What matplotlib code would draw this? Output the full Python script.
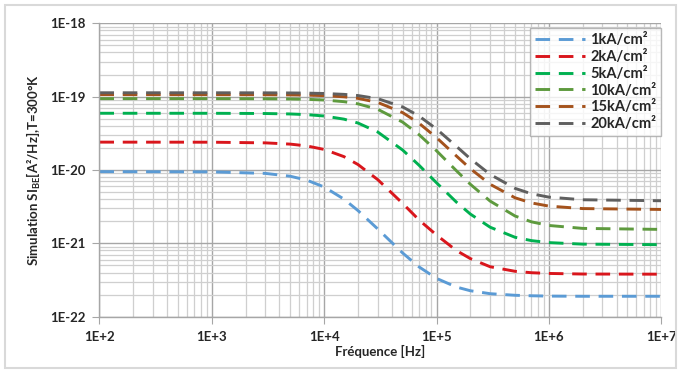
import numpy as np
import matplotlib
matplotlib.use("Agg")
import matplotlib.pyplot as plt
import matplotlib.ticker as ticker
from matplotlib.patches import Rectangle

plt.rcParams['font.family'] = ['Lato', 'DejaVu Sans']
plt.rcParams['mathtext.default'] = 'regular'

# frequences [Hz]
freq = [1e2, 1e3, 3e3, 5e3, 7e3, 1e4, 1.5e4, 2e4, 3e4, 5e4, 7e4,
        1e5, 1.5e5, 2e5, 3e5, 5e5, 7e5, 1e6, 2e6, 1e7]

# valeurs, en unites de 1E-21 A^2/Hz
s_1k = [9.50, 9.44, 8.99, 8.22, 7.28, 5.87, 4.01, 2.80, 1.57, 0.738, 0.477,
        0.333, 0.254, 0.226, 0.206, 0.196, 0.193, 0.191, 0.190, 0.190]
s_2k = [24.0, 23.94, 23.45, 22.54, 21.30, 19.08, 15.22, 11.88, 7.39, 3.50, 2.08,
        1.30, 0.80, 0.62, 0.48, 0.416, 0.398, 0.389, 0.382, 0.380]
s_5k = [59.4, 59.35, 58.92, 58.09, 56.88, 54.49, 49.39, 43.71, 32.96, 18.69, 11.59,
        6.70, 3.66, 2.51, 1.66, 1.21, 1.09, 1.024, 0.976, 0.960]
s_10k = [94.0, 93.96, 93.63, 92.97, 91.99, 90.0, 85.45, 79.82, 67.24, 44.92, 30.28,
         18.28, 9.81, 6.39, 3.77, 2.36, 1.965, 1.754, 1.60, 1.55]
s_15k = [106.5, 106.47, 106.2, 105.68, 104.91, 103.3, 99.56, 94.78, 83.4, 60.55, 43.33,
         27.63, 15.57, 10.43, 6.39, 4.18, 3.56, 3.22, 2.98, 2.90]
s_20k = [113.0, 112.98, 112.78, 112.37, 111.76, 110.49, 107.49, 103.57, 93.83, 72.41, 54.37,
         36.24, 21.07, 14.24, 8.71, 5.62, 4.74, 4.27, 3.93, 3.81]

labels = ['1kA/cm²', '2kA/cm²', '5kA/cm²', '10kA/cm²', '15kA/cm²', '20kA/cm²']
series = [s_1k, s_2k, s_5k, s_10k, s_15k, s_20k]
colors = ['#5B9BD5', '#D9161C', '#00B050', '#5E9A3E', '#A4521C', '#5F5F5F']

fig = plt.figure(figsize=(6.81, 3.70), dpi=100)
ax = fig.add_axes([0.146, 0.144, 0.825, 0.793])

for s, lab, c in zip(series, labels, colors):
    ax.plot(freq, np.array(s) * 1e-21, color=c, lw=2.1, dashes=(5.0, 3.0), label=lab)

ax.set_xscale('log')
ax.set_yscale('log')
ax.set_xlim(1e2, 1e7)
ax.set_ylim(1e-22, 1e-18)

ax.xaxis.set_major_locator(ticker.FixedLocator([1e2, 1e3, 1e4, 1e5, 1e6, 1e7]))
ax.yaxis.set_major_locator(ticker.FixedLocator([1e-22, 1e-21, 1e-20, 1e-19, 1e-18]))
fmt = ticker.FuncFormatter(lambda v, p: f"1E{int(round(np.log10(v))):+d}")
ax.xaxis.set_major_formatter(fmt)
ax.yaxis.set_major_formatter(fmt)
ax.xaxis.set_minor_formatter(ticker.NullFormatter())
ax.yaxis.set_minor_formatter(ticker.NullFormatter())
ax.xaxis.set_minor_locator(ticker.LogLocator(base=10, subs=np.arange(2, 10)))
ax.yaxis.set_minor_locator(ticker.LogLocator(base=10, subs=np.arange(2, 10)))

ax.grid(which='major', color='#A6A6A6', lw=1.0)
ax.grid(which='minor', color='#CFCFCF', lw=0.9)
ax.set_axisbelow(True)

for sp in ['top', 'right']:
    ax.spines[sp].set_visible(False)
for sp in ['left', 'bottom']:
    ax.spines[sp].set_color('#A6A6A6')
    ax.spines[sp].set_linewidth(1.0)

ax.tick_params(which='major', direction='out', length=5, color='#A6A6A6',
               labelsize=9.5, labelcolor='#262626', pad=5)
ax.tick_params(which='minor', length=0)
for t in ax.get_xticklabels() + ax.get_yticklabels():
    t.set_fontweight('bold')

ax.set_xlabel('Fréquence [Hz]', fontsize=9.5, fontweight='bold', color='#262626', labelpad=2)
ax.set_ylabel('Simulation SI$_{BE}$[A²/Hz],T=300°K', fontsize=9.5, fontweight='bold',
              color='#262626', labelpad=5)

leg = ax.legend(loc='upper right', bbox_to_anchor=(1.008, 1.0), fontsize=10.5,
                frameon=True, fancybox=False, handlelength=3.4, handletextpad=0.35,
                borderpad=0.35, labelspacing=0.2, borderaxespad=0.3)
leg.get_frame().set_edgecolor('#A6A6A6')
leg.get_frame().set_linewidth(1.0)
for t in leg.get_texts():
    t.set_fontweight('bold')
    t.set_color('#262626')

fig.patches.append(Rectangle((0.008, 0.006), 0.984, 0.981, transform=fig.transFigure,
                             fill=False, edgecolor='#D9D9D9', lw=1.5))

fig.savefig('out.png', dpi=100)
